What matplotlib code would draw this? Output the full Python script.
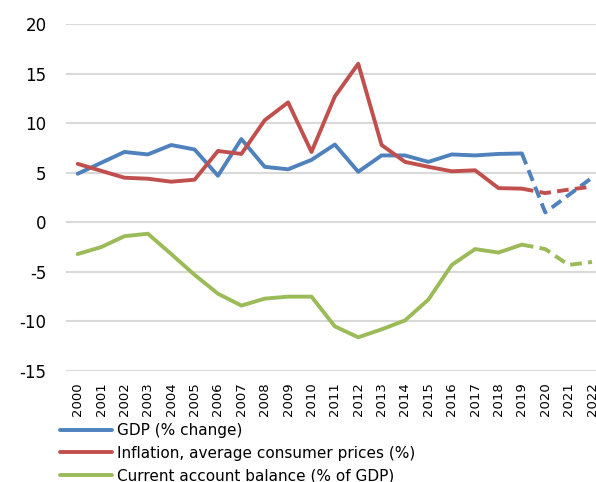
import matplotlib
matplotlib.use("Agg")
import matplotlib.pyplot as plt

years = list(range(2000, 2023))

gdp = [4.9, 6.0, 7.1, 6.85, 7.8, 7.35, 4.7, 8.4, 5.6, 5.35, 6.3, 7.85,
       5.1, 6.75, 6.75, 6.1, 6.85, 6.75, 6.9, 6.95, 1.0, 2.75, 4.5]
inflation = [5.9, 5.2, 4.5, 4.4, 4.1, 4.3, 7.2, 6.9, 10.3, 12.1, 7.1, 12.7,
             16.0, 7.8, 6.1, 5.6, 5.15, 5.25, 3.45, 3.4, 2.95, 3.3, 3.6]
current_account = [-3.2, -2.5, -1.4, -1.15, -3.2, -5.3, -7.2, -8.4, -7.7, -7.5,
                   -7.5, -10.5, -11.6, -10.8, -9.9, -7.8, -4.3, -2.7, -3.05,
                   -2.25, -2.7, -4.3, -4.0]

labels = ["GDP (% change)",
          "Inflation, average consumer prices (%)",
          "Current account balance (% of GDP)"]
colors = ["#4F81BD", "#C0504D", "#9BBB59"]

# last actual year; everything after it is a projection
last_actual = 2019
cut = years.index(last_actual) + 1

plt.rcParams["font.family"] = "DejaVu Sans"
plt.rcParams["axes.unicode_minus"] = False

fig = plt.figure(figsize=(5.96, 4.82), dpi=100)
ax = fig.add_axes([66 / 596, 0.2303, 537.7 / 596, 0.7197])

for series, label, color in zip([gdp, inflation, current_account], labels, colors):
    ax.plot(years[:cut], series[:cut], color=color, lw=2.8, label=label,
            solid_capstyle="round", solid_joinstyle="round")
    ax.plot(years[cut - 1:], series[cut - 1:], color=color, lw=2.8,
            dashes=(3, 1.6), dash_capstyle="butt")

ax.set_ylim(-15, 20)
ax.set_yticks(range(-15, 21, 5))
ax.set_xlim(years[0] - 0.5, years[-1] + 0.5)
ax.set_xticks(years)
ax.set_xticklabels([str(y) for y in years], rotation=90, fontsize=9.5)
ax.tick_params(axis="y", labelsize=12, length=0, pad=14)
ax.tick_params(axis="x", length=0, pad=8)
ax.grid(axis="y", color="#D9D9D9", lw=1.5)
ax.set_axisbelow(True)
for s in ax.spines.values():
    s.set_visible(False)

fig.legend(loc="upper left", bbox_to_anchor=(60 / 596, 1 - 423 / 482),
           frameon=False, fontsize=11, handlelength=3.4, handletextpad=0.3,
           labelspacing=0.5, borderaxespad=0, borderpad=0)

fig.savefig("out.png", dpi=100)
